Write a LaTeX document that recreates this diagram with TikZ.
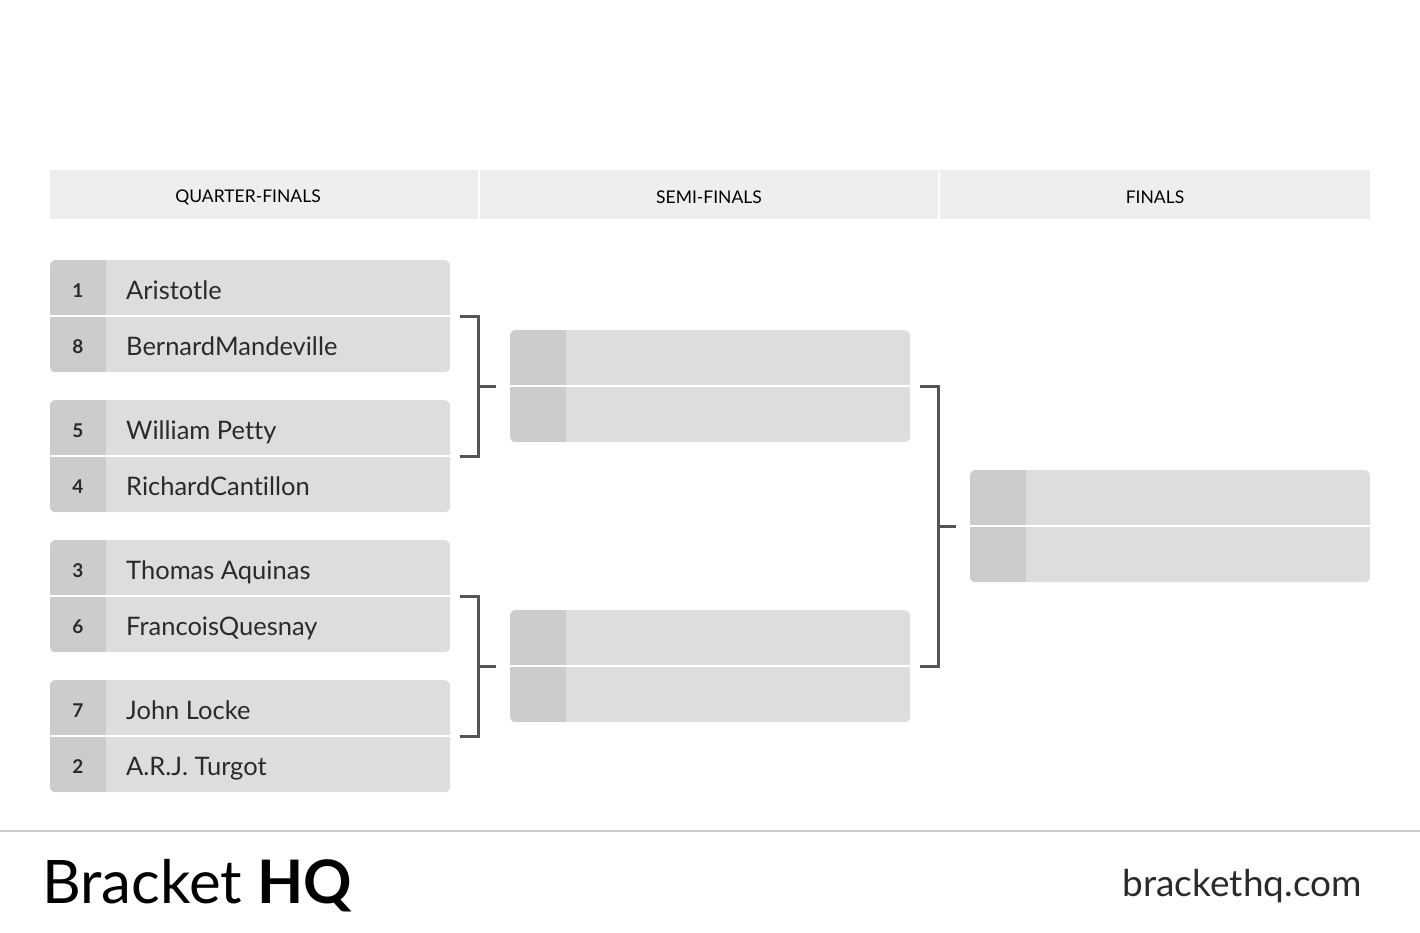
\documentclass[tikz,border=0pt]{standalone}
\usepackage{fontspec}
\setmainfont{Lato}[Ligatures=NoCommon]
\usepackage{tikz}
\definecolor{headgray}{HTML}{EEEEEE}
\definecolor{boxgray}{HTML}{DDDDDD}
\definecolor{seedgray}{HTML}{CCCCCC}
\definecolor{linkgray}{HTML}{555555}
\definecolor{namegray}{HTML}{2A2A2A}
\tikzset{
  match/.style={anchor=north west, fill=boxgray, rounded corners=6, minimum width=400, minimum height=112, inner sep=0},
  head/.style={inner sep=0, font=\fontsize{17.5}{20}\selectfont, text=black},
  seednum/.style={anchor=base, inner sep=0, font=\fontsize{19}{22}\selectfont\bfseries, text=namegray},
  player/.style={anchor=base west, inner sep=0, font=\fontsize{25.5}{30}\selectfont, text=namegray},
  link/.style={draw=linkgray, line width=3},
  divider/.style={draw=white, line width=2}
}
\begin{document}
\begin{tikzpicture}[x=1pt, y=-1pt]
  \useasboundingbox (0,0) rectangle (1420,932);
  % round headers
  \fill[headgray] (50,170) rectangle (478,219);
  \fill[headgray] (480,170) rectangle (938,219);
  \fill[headgray] (940,170) rectangle (1370,219);
  \node[head] (hqf) at (248,197) {QUARTER-FINALS};
  \node[head] (hsf) at (709,197) {SEMI-FINALS};
  \node[head] (hfin) at (1155,197) {FINALS};
  % match boxes
  \foreach \n/\y in {1/260,2/400,3/540,4/680}{
    \node[match] (qf\n) at (50,\y) {};}
  \node[match] (sf1) at (510,330) {};
  \node[match] (sf2) at (510,610) {};
  \node[match] (fin) at (970,470) {};
  \foreach \m in {qf1,qf2,qf3,qf4,sf1,sf2,fin}{
    \begin{scope}
      \clip[rounded corners=6] (\m.north west) rectangle (\m.south east);
      \fill[seedgray] (\m.north west) rectangle ([xshift=56]\m.south west);
    \end{scope}
    \draw[divider] (\m.west) -- (\m.east);}
  % seeds and players
  \foreach \s/\name/\y in {1/Aristotle/288,8/BernardMandeville/344,5/William Petty/428,4/RichardCantillon/484,3/Thomas Aquinas/568,6/FrancoisQuesnay/624,7/John Locke/708,2/A.R.J. Turgot/764}{
    \node[seednum] (s\s) at (78,\y+9) {\s};
    \node[player] (p\s) at (126,\y+11) {\name};}
  % brackets
  \draw[link] ([xshift=10]qf1.east) -| ([xshift=28]qf2.east) -- ([xshift=10]qf2.east);
  \draw[link] ([xshift=10]qf3.east) -| ([xshift=28]qf4.east) -- ([xshift=10]qf4.east);
  \draw[link] ([xshift=-32]sf1.west) -- ([xshift=-14]sf1.west);
  \draw[link] ([xshift=-32]sf2.west) -- ([xshift=-14]sf2.west);
  \draw[link] ([xshift=10]sf1.east) -| ([xshift=28]sf2.east) -- ([xshift=10]sf2.east);
  \draw[link] ([xshift=-32]fin.west) -- ([xshift=-14]fin.west);
  % footer
  \draw[seedgray, line width=1.5] (0,831) -- (1420,831);
  \node[anchor=base west, inner sep=0, font=\fontsize{60}{70}\selectfont] (logo) at (42,903) {Bracket \textbf{HQ}};
  \node[anchor=base east, inner sep=0, font=\fontsize{37}{44}\selectfont, text=namegray] (site) at (1362,896) {brackethq.com};
\end{tikzpicture}
\end{document}
